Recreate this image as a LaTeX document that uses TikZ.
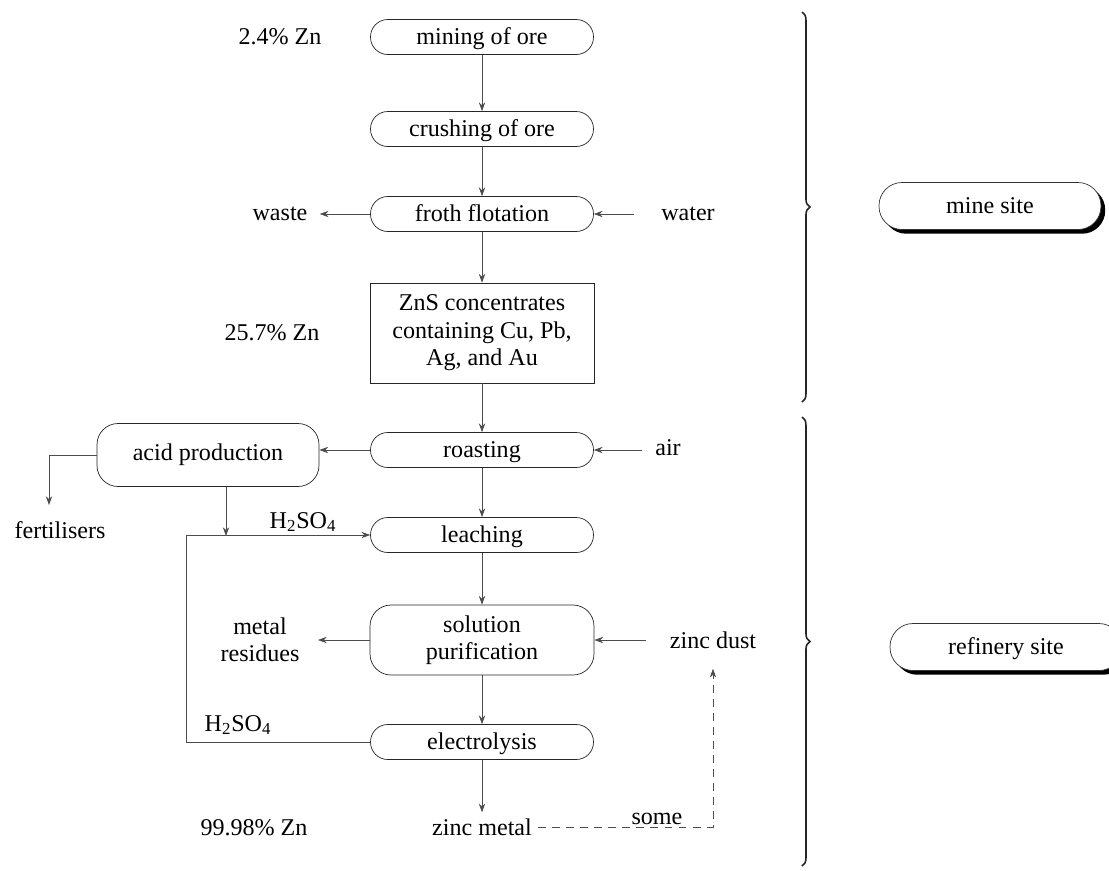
\documentclass[tikz,border=0pt]{standalone}
\usepackage{fontspec}
\setmainfont{Liberation Serif}
\usetikzlibrary{arrows.meta,positioning,shadows,decorations.pathreplacing}
\tikzset{
  every picture/.style={font=\fontsize{13.7}{15.6}\selectfont},
  stage/.style={draw=black!85,rounded corners=0.345cm,minimum width=4.46cm,minimum height=0.7cm,inner sep=1pt,
    text height=11pt,text depth=2pt},
  roundbox/.style={draw=black!85,rounded corners=0.42cm,align=center},
  flow/.style={draw=black!70,-{Stealth[length=5pt,width=3.6pt]}},
  brc/.style={draw=black!85,line width=0.9pt,decorate,decoration={brace,amplitude=4.5pt}},
  site/.style={draw=black!80,fill=white,rounded corners=0.46cm,minimum height=0.94cm,
    text height=11pt,text depth=2pt,
    drop shadow={opacity=1,shadow xshift=2.4pt,shadow yshift=-2.4pt,fill=black}},
}
\begin{document}
\begin{tikzpicture}[x=0.02cm,y=-0.02cm]
  \useasboundingbox (0,0) rectangle (1109,870);
  \node[stage] (mine) at (482,37) {mining of ore};
  \node[stage] (crush) at (482,129) {crushing of ore};
  \node[stage] (froth) at (482,214) {froth flotation};
  \node[draw=black!85,minimum width=4.48cm,minimum height=2cm,align=center] (zns) at (482,333)
    {ZnS concentrates\\containing Cu, Pb,\\Ag, and Au};
  \node[stage] (roast) at (482,450) {roasting};
  \node[stage] (leach) at (482,535) {leaching};
  \node[roundbox,minimum width=4.48cm,minimum height=1.4cm] (purif) at (482,640) {solution\\purification};
  \node[stage] (elec) at (482,742) {electrolysis};
  \node (zmet) at (482,827) {zinc metal};
  \node[roundbox,minimum width=4.44cm,minimum height=1.26cm] (acid) at (208,455) {acid production};
  \node (fert) at (60,530) {fertilisers};
  \node (waste) at (280,214) {waste};
  \node (water) at (688,214) {water};
  \node (air) at (668,448) {air};
  \node[align=center] (resid) at (260,640) {metal\\residues};
  \node (dust) at (713,640) {zinc dust};
  \node (pct1) at (280,37) {2.4\% Zn};
  \node (pct2) at (272,333) {25.7\% Zn};
  \node (pct3) at (254,828) {99.98\% Zn};
  \node (sulf1) at (303,522) {H\textsubscript{2}SO\textsubscript{4}};
  \node (sulf2) at (238,725) {H\textsubscript{2}SO\textsubscript{4}};
  \coordinate (join) at (226,536);
  \coordinate (loop) at (186,742);
  \coordinate (fdrop) at (49,505);
  \draw[flow] (mine) -- (crush);
  \draw[flow] (crush) -- (froth);
  \draw[flow] (froth) -- (zns);
  \draw[flow] (zns) -- (roast);
  \draw[flow] (roast) -- (leach);
  \draw[flow] (leach) -- (purif);
  \draw[flow] (purif) -- (elec);
  \draw[flow] (elec) -- (zmet);
  \draw[flow,shorten >=3.5pt] (froth) -- (waste);
  \draw[flow,shorten <=12pt] (water) -- (froth);
  \draw[flow,shorten <=4pt] (air.west |- roast) -- (roast);
  \draw[flow] (roast.west) -- (roast.west -| acid.east);
  \draw[flow] (acid.west) -| (fdrop);
  \draw[flow] (acid.south -| join) -- (join);
  \draw[flow] (elec.west) -- (loop) |- (leach.west);
  \draw[flow,shorten >=7pt] (purif) -- (resid);
  \draw[flow,shorten <=10pt] (dust) -- (purif);
  \draw[flow,dash pattern=on 4.5pt off 3.5pt,shorten >=8pt] (zmet.east) -| node[pos=0.34,above,inner sep=1pt] {some} (dust.south);
  \node[site,minimum width=4.44cm] (msite) at (990,206) {mine site};
  \node[site,minimum width=4.64cm] (rsite) at (1006,647) {refinery site};
  \draw[brc] (802,12) -- (802,402);
  \draw[brc] (802,417) -- (802,866);
\end{tikzpicture}
\end{document}
